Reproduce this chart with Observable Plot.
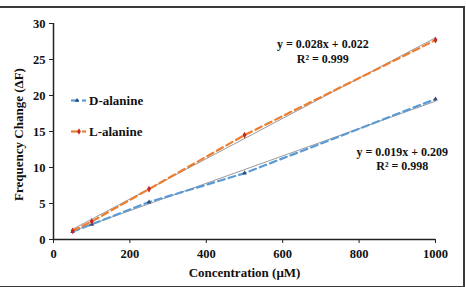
<!DOCTYPE html>
<html>
<head>
<meta charset="utf-8">
<script src="https://cdn.jsdelivr.net/npm/d3@7"></script>
<script src="https://cdn.jsdelivr.net/npm/@observablehq/plot@0.6"></script>
<style>
  html, body { margin: 0; padding: 0; background: #fff; }
  #wrap { position: relative; width: 466px; height: 287px; overflow: hidden; }
  #frame { position: absolute; left: -4px; top: 6px; width: 465px; height: 278px;
           border: 2px solid #3a3a3a; pointer-events: none; }
  #legend { position: absolute; left: 0; top: 0; pointer-events: none; }
  svg { font-family: "Liberation Serif", "Times New Roman", serif; }
</style>
</head>
<body>
<div id="wrap"></div>
<script>
// Frequency response of the sensor to alanine enantiomers
const concentration = [50, 100, 250, 500, 1000];
const dAlanine = [1.1, 2.1, 5.2, 9.2, 19.5];
const lAlanine = [1.2, 2.5, 7.0, 14.5, 27.7];

const seriesNames = ["D-alanine", "L-alanine"];
const seriesColors = ["#5b9bd5", "#ed7d31"];
const markerColors = ["#2f4670", "#c62828"];
const markerSymbols = ["triangle", "diamond"];

// Linear fits reported for each series
const fitSlope = [0.019, 0.028];
const fitIntercept = [0.209, 0.022];
const fitR2 = ["0.998", "0.999"];

const xTicks = [0, 200, 400, 600, 800, 1000];
const yTicks = [0, 5, 10, 15, 20, 25, 30];

const ink = "#111";

const points = [];
[dAlanine, lAlanine].forEach((vals, s) => {
  vals.forEach((v, i) => points.push({series: seriesNames[s], x: concentration[i], y: v}));
});

const fits = [];
seriesNames.forEach((name, s) => {
  [concentration[0], concentration[concentration.length - 1]].forEach(x =>
    fits.push({series: name, x, y: fitSlope[s] * x + fitIntercept[s]}));
});

const fmt = v => (v >= 0 ? "+ " : "- ") + Math.abs(v).toFixed(3);
const eqLabels = seriesNames.map((name, s) => ({
  series: name,
  text: `y = ${fitSlope[s].toFixed(3)}x ${fmt(fitIntercept[s])}\nR² = ${fitR2[s]}`
}));

const font = {fontFamily: "Liberation Serif", fontWeight: "bold"};

const chart = Plot.plot({
  width: 466,
  height: 287,
  marginLeft: 53,
  marginRight: 31,
  marginTop: 23,
  marginBottom: 48,
  style: {fontFamily: "Liberation Serif", fontSize: "12.5px", fontWeight: "bold", color: ink, background: "transparent"},
  x: {domain: [0, 1000]},
  y: {domain: [0, 30]},
  color: {domain: seriesNames, range: seriesColors},
  marks: [
    // fitted trend lines
    Plot.line(fits, {x: "x", y: "y", z: "series", stroke: "#9a9a9a", strokeWidth: 1}),
    // measured series, dashed
    Plot.line(points, {x: "x", y: "y", z: "series", stroke: "series", strokeWidth: 2.2, strokeDasharray: "7,4"}),
    Plot.dot(points.filter(d => d.series === seriesNames[0]), {x: "x", y: "y", symbol: markerSymbols[0], r: 1.7, fill: markerColors[0]}),
    Plot.dot(points.filter(d => d.series === seriesNames[1]), {x: "x", y: "y", symbol: markerSymbols[1], r: 2.1, fill: markerColors[1]}),
    // axes
    Plot.ruleX([0], {stroke: "#222", strokeWidth: 1.5}),
    Plot.ruleY([0], {stroke: "#222", strokeWidth: 1.5}),
    Plot.axisX({ticks: xTicks, tickFormat: d => String(d), tickSize: 4, tickPadding: 6, stroke: "#222", fill: ink, label: null}),
    Plot.axisY({ticks: yTicks, tickSize: 4, tickPadding: 4, stroke: "#222", fill: ink, label: null}),
    Plot.text(["Concentration (μM)"], {frameAnchor: "bottom", textAnchor: "middle", dy: 37, fontSize: 13, ...font, fill: ink}),
    Plot.text(["Frequency Change (ΔF)"], {frameAnchor: "left", textAnchor: "middle", lineAnchor: "middle", dx: -35, dy: 3, rotate: -90, fontSize: 13, ...font, fill: ink}),
    // fit equations
    Plot.text(eqLabels.filter(d => d.series === "L-alanine"), {
      x: () => 705, y: () => 26.2, text: "text", lineAnchor: "middle", fontSize: 12, lineHeight: 1.2, ...font, fill: ink
    }),
    Plot.text(eqLabels.filter(d => d.series === "D-alanine"), {
      x: () => 913, y: () => 11.3, text: "text", lineAnchor: "middle", fontSize: 12, lineHeight: 1.2, ...font, fill: ink
    })
  ]
});

const wrap = document.getElementById("wrap");
wrap.appendChild(chart);

// Legend drawn inside the plot area
const ns = "http://www.w3.org/2000/svg";
const leg = document.createElementNS(ns, "svg");
leg.setAttribute("id", "legend");
leg.setAttribute("width", 466);
leg.setAttribute("height", 287);
const rows = [100.5, 131.5];
seriesNames.forEach((name, s) => {
  const y = rows[s];
  const g = document.createElementNS(ns, "g");
  const l1 = document.createElementNS(ns, "line");
  l1.setAttribute("x1", 71); l1.setAttribute("x2", 79);
  l1.setAttribute("y1", y); l1.setAttribute("y2", y);
  l1.setAttribute("stroke", seriesColors[s]); l1.setAttribute("stroke-width", 2.2);
  const l2 = document.createElementNS(ns, "line");
  l2.setAttribute("x1", 82); l2.setAttribute("x2", 86);
  l2.setAttribute("y1", y); l2.setAttribute("y2", y);
  l2.setAttribute("stroke", seriesColors[s]); l2.setAttribute("stroke-width", 2.2);
  const m = document.createElementNS(ns, "path");
  const sym = markerSymbols[s] === "diamond" ? d3.symbolDiamond : d3.symbolTriangle;
  m.setAttribute("d", d3.symbol(sym, s === 1 ? 12 : 8)());
  m.setAttribute("transform", `translate(${s === 1 ? 79 : 77},${y})`);
  m.setAttribute("fill", markerColors[s]);
  const t = document.createElementNS(ns, "text");
  t.setAttribute("x", 89); t.setAttribute("y", y);
  t.setAttribute("dy", "0.35em");
  t.setAttribute("font-size", 13);
  t.setAttribute("font-weight", "bold");
  t.setAttribute("fill", ink);
  t.textContent = name;
  g.append(l1, l2, m, t);
  leg.appendChild(g);
});
wrap.appendChild(leg);

const frame = document.createElement("div");
frame.id = "frame";
wrap.appendChild(frame);
</script>
</body>
</html>
